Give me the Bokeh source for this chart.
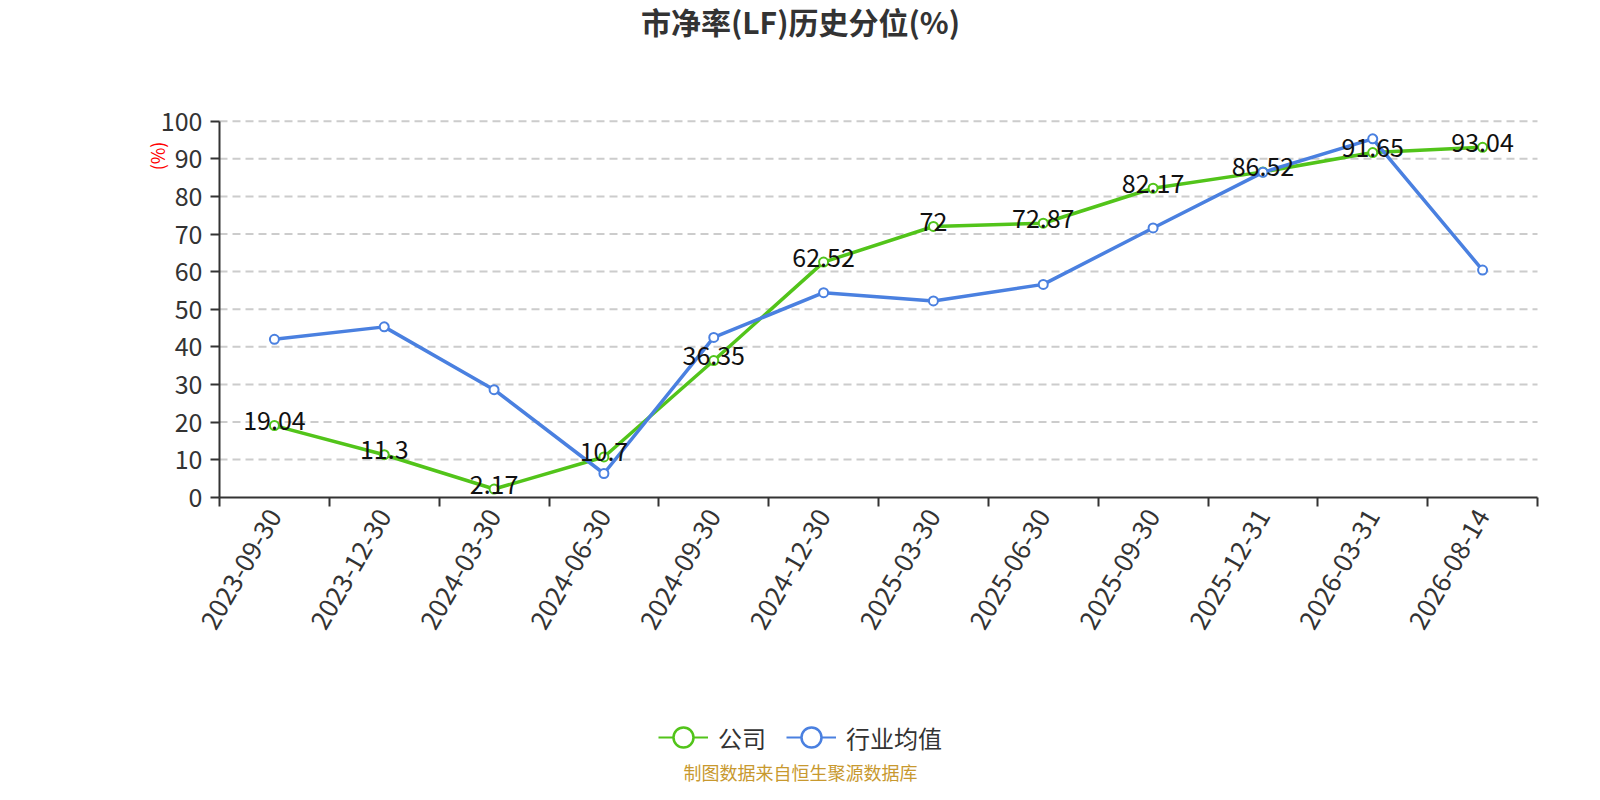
import math
from bokeh.plotting import figure
from bokeh.models import (Range1d, FixedTicker, ColumnDataSource, LabelSet, Label,
                          Legend, LegendItem)
from bokeh.core.properties import value
from bokeh.embed import file_html
from bokeh.resources import INLINE

# ---- data ----
dates = ["2023-09-30", "2023-12-30", "2024-03-30", "2024-06-30", "2024-09-30",
         "2024-12-30", "2025-03-30", "2025-06-30", "2025-09-30", "2025-12-31",
         "2026-03-31", "2026-08-14"]
company = [19.04, 11.3, 2.17, 10.7, 36.35, 62.52, 72, 72.87, 82.17, 86.52, 91.65, 93.04]
industry = [42.0, 45.3, 28.6, 6.3, 42.5, 54.4, 52.2, 56.6, 71.6, 86.4, 95.3, 60.4]
company_labels = [f"{v:g}" for v in company]
y_ticks = list(range(0, 101, 10))

title_text = "市净率(LF)历史分位(%)"
series_names = ["公司", "行业均值"]
footer_text = "制图数据来自恒生聚源数据库"
y_unit = "(%)"

GREEN = "#52c41a"
BLUE = "#4a80e0"
FONT = "Noto Sans CJK SC"

# ---- layout (pixels on the canvas) ----
W, H = 1584, 784
PLOT_L, PLOT_R = 219.0, 1537.0      # x: -0.5 .. n-0.5
PLOT_T, PLOT_B = 120.7, 496.7       # y: 100 .. 0
n = len(dates)
kx = (PLOT_R - PLOT_L) / n
ky = (PLOT_B - PLOT_T) / 100.0
x0 = -0.5 - PLOT_L / kx
x1 = -0.5 + (W - PLOT_L) / kx
y1 = 100 + PLOT_T / ky
y0 = -(H - PLOT_B) / ky


def dx(px):
    return x0 + px / kx


def dy(py):
    return (PLOT_B - py) / ky


xs = list(range(n))
src = ColumnDataSource(dict(x=xs, company=company, industry=industry, lab=company_labels))

p = figure(title=None, frame_width=W, frame_height=H,
           min_border_left=0, min_border_right=0, min_border_top=0, min_border_bottom=0,
           x_range=Range1d(x0, x1), y_range=Range1d(y0, y1),
           output_backend="svg", toolbar_location=None, tools="")
p.outline_line_color = None
p.background_fill_color = "white"
p.border_fill_color = "white"
p.xgrid.visible = False
p.ygrid.visible = False

# grid lines (dashed), spanning the category band only
gsrc = ColumnDataSource(dict(y=y_ticks[1:], xa=[-0.5] * (len(y_ticks) - 1),
                             xb=[n - 0.5] * (len(y_ticks) - 1)))
p.segment(x0="xa", y0="y", x1="xb", y1="y", source=gsrc, line_color="#cccccc",
          line_width=2, line_dash="8 5")

# axes
xa = p.xaxis[0]
xa.fixed_location = 0
xa.bounds = (-0.5, n - 0.5)
xa.ticker = FixedTicker(ticks=xs, minor_ticks=[i - 0.5 for i in range(n + 1)])
xa.major_label_overrides = {i: d for i, d in enumerate(dates)}
xa.major_label_orientation = math.pi / 3
xa.major_tick_line_color = None
xa.major_tick_out = 9
xa.major_tick_in = 0
xa.minor_tick_out = 9
xa.minor_tick_in = 0
xa.minor_tick_line_color = "#333333"
xa.minor_tick_line_width = 2
xa.axis_line_color = "#333333"
xa.axis_line_width = 2
xa.major_label_text_font = FONT
xa.major_label_text_font_size = "26px"
xa.major_label_text_color = "#333333"
xa.major_label_standoff = 5

ya = p.yaxis[0]
ya.fixed_location = -0.5
ya.bounds = (0, 100)
ya.ticker = FixedTicker(ticks=y_ticks, minor_ticks=[])
ya.major_tick_out = 9
ya.major_tick_in = 0
ya.major_tick_line_color = "#333333"
ya.major_tick_line_width = 2
ya.axis_line_color = "#333333"
ya.axis_line_width = 2
ya.major_label_text_font = FONT
ya.major_label_text_font_size = "25px"
ya.major_label_text_color = "#333333"
ya.major_label_standoff = 8

# series
p.line("x", "company", source=src, line_color=GREEN, line_width=3.5)
p.scatter("x", "company", source=src, size=9, line_color=GREEN, line_width=2, fill_color="white")
p.line("x", "industry", source=src, line_color=BLUE, line_width=3.5)
p.scatter("x", "industry", source=src, size=9, line_color=BLUE, line_width=2, fill_color="white")

labels = LabelSet(x="x", y="company", text="lab", source=src, text_align="center",
                  text_baseline="middle", y_offset=5,
                  text_font=value(FONT), text_font_size=value("25px"), text_color="#111111")
p.add_layout(labels)

# legend (off-screen dummy renderers carry the legend styling)
nan = float("nan")
dummy = ColumnDataSource(dict(x=[nan], y=[nan]))
lg_l1 = p.line("x", "y", source=dummy, line_color=GREEN, line_width=2)
lg_s1 = p.scatter("x", "y", source=dummy, line_color=GREEN, line_width=2.5, fill_color="white")
lg_l2 = p.line("x", "y", source=dummy, line_color=BLUE, line_width=2)
lg_s2 = p.scatter("x", "y", source=dummy, line_color=BLUE, line_width=2.5, fill_color="white")
legend = Legend(items=[LegendItem(label=series_names[0], renderers=[lg_l1, lg_s1]),
                       LegendItem(label=series_names[1], renderers=[lg_l2, lg_s2])],
                orientation="horizontal", location=(658, H - 765),
                glyph_width=50, glyph_height=56, label_standoff=10, spacing=20,
                padding=0, margin=0, border_line_color=None, background_fill_alpha=0,
                label_text_font=FONT, label_text_font_size="24px", label_text_color="#333333")
p.add_layout(legend, "center")

# title, unit label, footer
p.add_layout(Label(x=dx(800), y=dy(20), text=title_text,
                   text_align="center", text_baseline="middle", text_font=FONT,
                   text_font_size="30px", text_font_style="bold", text_color="#333333"))
p.add_layout(Label(x=dx(156.5), y=dy(155.5), text=y_unit, angle=math.pi / 2,
                   text_align="center", text_baseline="middle", text_font=FONT,
                   text_font_size="18px", text_color="#ff0000"))
p.add_layout(Label(x=dx(800), y=dy(771), text=footer_text,
                   text_align="center", text_baseline="middle", text_font=FONT,
                   text_font_size="18px", text_color="#c8992f"))

open("out.html", "w").write(file_html(p, INLINE))
